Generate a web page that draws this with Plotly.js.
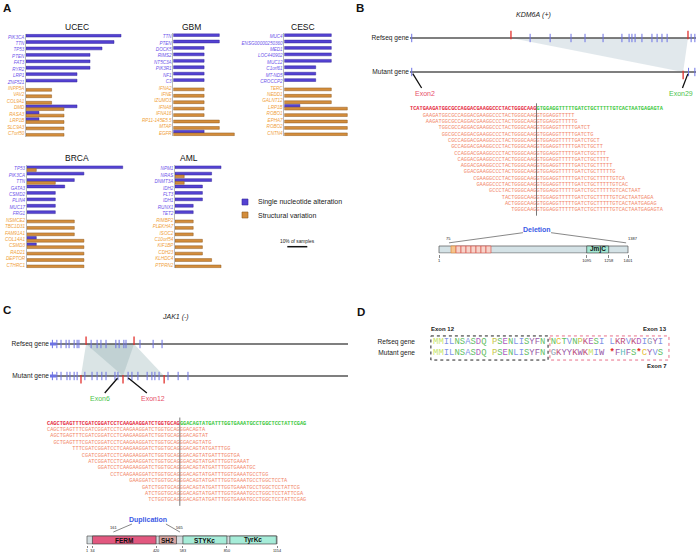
<!DOCTYPE html>
<html>
<head>
<meta charset="utf-8">
<script src="https://cdn.plot.ly/plotly-3.0.1.min.js"></script>
<style>
  html, body { margin: 0; padding: 0; background: #fff; }
  #chart { width: 696px; height: 555px; }
</style>
</head>
<body>
<div id="chart"></div>
<script>
var W = 696, H = 555;
var FONT = 'Liberation Sans, Arial, sans-serif';
var MONO = 'Liberation Mono, Courier New, monospace';

// ---------- A: top altered genes per cancer type (% of samples) ----------
var ucecGenes = ['PIK3CA','TTN','TP53','PTEN','FAT3','RYR2','LRP1','ZNF521','INPP5A','VAV2','COL9A1','DMD','RASA3','LRP1B','SLC9A3','C7orf50'];
var ucecSnv = [47.5, 44, 38, 32, 32, 32, 25.5, 25.5, 0, 0, 0, 25.5, 6.5, 6.5, 0, 0];
var ucecSv  = [0, 0, 0, 0, 0, 0, 0, 0, 12.8, 12.8, 12.8, 19, 19, 19, 19, 19];

var gbmGenes = ['TTN','PTEN','DOCK5','RIMS2','NT5C3A','PIK3R1','NF1','C3','IFNA2','IFNE','IZUMO3','IFNA8','IFNA16','RP11-145E5.5','MTAP','EGFR'];
var gbmSnv = [23, 23, 15.4, 15.4, 15.4, 15.4, 15.4, 15.4, 0, 0, 0, 0, 0, 0, 0, 15.4];
var gbmSv  = [0, 0, 0, 0, 0, 0, 0, 0, 15.4, 15.4, 15.4, 15.4, 15.4, 23, 23, 30.5];

var cescGenes = ['MUC4','ENSG00000250360','MED1','LOC440902','MUC12','C1orf61','MT-ND5','CROCCP2','TERC','NEDD1','GALNT12','LRP1B','ROBO1','EPHA7','ROBO2','CNTN4'];
var cescSnv = [23.5, 23.5, 23.5, 23.5, 23.5, 15.7, 15.7, 15.7, 0, 0, 0, 7.8, 0, 0, 0, 0];
var cescSv  = [0, 0, 0, 0, 0, 0, 0, 0, 23.5, 23.5, 23.5, 31.5, 31.5, 31.5, 31.5, 31.5];

var brcaGenes = ['TP53','PIK3CA','TTN','GATA3','CSMD2','PLIN4','MUC17','FRG1','NSMCE2','TBC1D31','FAM91A1','COL14A1','CSMD3','RAD21','DEPTOR','CTHRC1'];
var brcaSnv = [48, 28.6, 23.8, 19, 14.3, 14.3, 14.3, 14.3, 0, 0, 0, 4.8, 4.8, 0, 0, 0];
var brcaSv  = [4.8, 0, 14.3, 0, 0, 0, 0, 0, 23.8, 23.8, 23.8, 28.6, 28.6, 28.6, 28.6, 28.6];

var amlGenes = ['NPM1','NRAS','DNMT3A','IDH2','FLT3','IDH1','RUNX1','TET2','RIMBP2','PLEKHA7','ISOC2','C10orf54','KIF1BP','CDH23','KLHDC4','PTPRN2'];
var amlSnv = [23, 18.3, 18.3, 13.7, 13.7, 13.7, 9.1, 9.1, 0, 0, 0, 0, 0, 0, 0, 0];
var amlSv  = [0, 4.6, 4.6, 0, 0, 0, 0, 0, 9.1, 9.1, 9.1, 13.7, 13.7, 13.7, 18.3, 23];

var snvLabelCount = 8;   // first 8 genes in each list are SNV genes
var scaleBarPct = 10;

// ---------- B: KDM6A deletion ----------
var kdmRefExons = [0.6, 42, 49, 56.3, 61.2, 67.5, 74.1, 76.6, 77.6, 78.7, 81.1, 84.6, 86.4, 88.1, 89.9, 98.3, 99.6];
var kdmRefBreaks = [35.3, 97.2];
var kdmMutExons = [0.6, 97.4, 99.6];
var kdmMutBreaks = [95.5];
var kdmLeft = 'TCATGAAGATGGCGCCAGGACGAAGGCCCTACTGGGCAAG';
var kdmRight = 'GTGGAGGTTTTTGATCTGCTTTTTGTCACTAATGAGAGTA';
var kdmReadStart = [4, 5, 9, 10, 12, 13, 14, 15, 16, 17, 20, 21, 25, 29, 30, 32];
var kdmReadEnd = [52, 53, 57, 58, 60, 61, 62, 63, 64, 65, 68, 69, 73, 77, 78, 80];
var kdmLength = 1401;
var kdmTprStart = [90, 127, 164, 201, 238, 275, 312, 349];
var kdmTprEnd = [127, 164, 201, 238, 275, 312, 349, 386];
var kdmDomainNames = ['JmjC'];
var kdmDomainStart = [1095];
var kdmDomainEnd = [1258];
var kdmTicks = [1, 1095, 1258, 1401];
var kdmDeletion = [75, 1387];

// ---------- C: JAK1 duplication ----------
var jakRefExons = [0.8, 2.3, 3.7, 5.4, 6.4, 8.1, 9.1, 9.7, 13.8, 15.8, 17.1, 18.8, 22.1, 23.2, 24.8, 25.5, 30.2, 34.6, 37.6];
var jakRefBreaks = [12.1, 28.2];
var jakMutExons = [0.8, 2.3, 3.7, 5.7, 6.7, 8.1, 9.1, 11.7, 14.1, 15.8, 17.4, 18.8, 21.8, 22.8, 26.2, 27.5, 29.5, 32.6, 34.2, 35.2, 36.6, 39.6, 43.0, 46.3];
var jakMutBreaks = [10.4, 24.5, 38.3];
var jakLeft = 'CAGCTGAGTTTCGATCGGATCCTCAAGAAGGATCTGGTGCAG';
var jakRight = 'GGACAGTATGATTTGGTGAAATGCCTGGCTCCTATTCGAG';
var jakReadStart = [0, 1, 2, 8, 11, 13, 16, 20, 26, 30, 31, 32];
var jakReadEnd = [50, 51, 52, 58, 61, 64, 66, 70, 76, 80, 81, 82];
var jakLength = 1154;
var jakDomainNames = ['FERM', 'SH2', 'STYKc', 'TyrKc'];
var jakDomainStart = [34, 439, 583, 868];
var jakDomainEnd = [420, 544, 850, 1150];
var jakTicks = [1, 34, 420, 583, 850, 1154];
var jakDuplication = [161, 565];

// ---------- D: protein sequences ----------
var refseqProtein = 'MMILNSASDQ PSENLISYFN NCTVNPKESI LKRVKDIGYI';
var mutantProtein = 'MMILNSASDQ PSENLISYFN GKYYKWKMIW *FHFS*CYVS';

// ---------- styles ----------
var SNV_FILL = '#5442d2', SNV_EDGE = '#33269a', SNV_LABEL = '#6e55ea';
var SV_FILL = '#d38d3c', SV_EDGE = '#8e5a20', SV_LABEL = '#f0a03a';
var EXON_BLUE = '#6c72e4', BREAK_RED = '#e2302c';
var SEQ_RED = '#e52a3e', SEQ_GREEN = '#3cc83c', READ_COLOR = '#f2876a';
var PX_PER_PCT = 2.0, ROW = 6.43;
var CHAR_PX = 3.1625;
var residueColors = {A:'#7f93e6', I:'#7f93e6', L:'#7f93e6', V:'#7f93e6', M:'#c6e56a',
  F:'#9a5aa8', W:'#9a5aa8', Y:'#9a5aa8', N:'#62c062', Q:'#62c062', S:'#62c062', T:'#62c062',
  D:'#b060c0', E:'#b060c0', K:'#c0507a', R:'#c0507a', H:'#5cbcbc', G:'#8a9ab0',
  P:'#c8c84a', C:'#e6c040', '*':'#e02a2a'};

var traces = [];
var layout = {
  width: W, height: H,
  margin: {l: 0, r: 0, t: 0, b: 0},
  paper_bgcolor: '#fff', plot_bgcolor: 'rgba(0,0,0,0)',
  showlegend: false,
  barmode: 'group', bargap: 0.12, bargroupgap: 0,
  font: {family: FONT, color: '#222'},
  annotations: [], shapes: []
};

var nAx = 0;
function newAxes(xa, ya) {
  nAx += 1;
  var s = nAx === 1 ? '' : String(nAx);
  var base = {fixedrange: true, showgrid: false, zeroline: false};
  layout['xaxis' + s] = Object.assign({anchor: 'y' + s, visible: false}, base, xa);
  layout['yaxis' + s] = Object.assign({anchor: 'x' + s, visible: false}, base, ya);
  return {x: 'x' + s, y: 'y' + s};
}
function xLinear(p0, p1, pa, va, pb, vb) {
  var k = (vb - va) / (pb - pa);
  return {domain: [p0 / W, p1 / W], range: [va + (p0 - pa) * k, va + (p1 - pa) * k]};
}
function yLinear(top, bottom, pa, va, pb, vb) {
  var k = (vb - va) / (pb - pa);
  return {domain: [1 - bottom / H, 1 - top / H], range: [va + (bottom - pa) * k, va + (top - pa) * k]};
}
function note(text, x, y, opts) {
  layout.annotations.push(Object.assign({text: text, x: x, y: y, xref: 'paper', yref: 'paper',
    xanchor: 'center', yanchor: 'middle', showarrow: false, font: {size: 7, color: '#222'}}, opts || {}));
}
function px(x) { return x / W; }
function py(y) { return 1 - y / H; }
function nz(v) { return v > 0 ? v : null; }

// ---------- panel A ----------
function cancerPanel(title, genes, snv, sv, x0, x1, yFirst, titleX, titleY) {
  var n = genes.length;
  var ax = newAxes(
    {domain: [x0 / W, x1 / W], range: [0, (x1 - x0) / PX_PER_PCT]},
    {visible: true, type: 'category',
     domain: [1 - (yFirst + (n - 0.5) * ROW) / H, 1 - (yFirst - 0.5 * ROW) / H],
     range: [n - 0.5, -0.5], tickmode: 'array', tickvals: genes,
     ticktext: genes.map(function (g, i) {
       return '<i><span style="color:' + (i < snvLabelCount ? SNV_LABEL : SV_LABEL) + '">' + g + '</span></i>';
     }),
     ticks: '', tickfont: {size: 4.6}, showline: true, linecolor: '#9a9a9a', linewidth: 0.7});
  traces.push({type: 'bar', orientation: 'h', y: genes, x: snv.map(nz), xaxis: ax.x, yaxis: ax.y,
    marker: {color: SNV_FILL, line: {color: SNV_EDGE, width: 0.5}}, hoverinfo: 'skip'});
  traces.push({type: 'bar', orientation: 'h', y: genes, x: sv.map(nz), xaxis: ax.x, yaxis: ax.y,
    marker: {color: SV_FILL, line: {color: SV_EDGE, width: 0.5}}, hoverinfo: 'skip'});
  note(title, px(titleX), py(titleY), {font: {size: 8.5, color: '#111'}});
}
cancerPanel('UCEC', ucecGenes, ucecSnv, ucecSv, 26, 125, 37, 77, 27);
cancerPanel('GBM', gbmGenes, gbmSnv, gbmSv, 173.3, 236, 36.5, 191, 27);
cancerPanel('CESC', cescGenes, cescSnv, cescSv, 284.3, 350, 36.5, 303, 27);
cancerPanel('BRCA', brcaGenes, brcaSnv, brcaSv, 26.7, 125, 168.6, 77, 158);
cancerPanel('AML', amlGenes, amlSnv, amlSv, 175, 236, 168.6, 189, 158);

// legend
layout.shapes.push({type: 'rect', xref: 'paper', yref: 'paper', x0: px(242), x1: px(248), y0: py(205), y1: py(199),
  fillcolor: SNV_FILL, line: {color: SNV_EDGE, width: 0.6}});
layout.shapes.push({type: 'rect', xref: 'paper', yref: 'paper', x0: px(242), x1: px(248), y0: py(218), y1: py(212),
  fillcolor: SV_FILL, line: {color: SV_EDGE, width: 0.6}});
note('Single nucleotide alteration', px(256), py(202), {xanchor: 'left', font: {size: 7, color: '#222'}});
note('Structural variation', px(256), py(215), {xanchor: 'left', font: {size: 7, color: '#222'}});

// scale bar
var sAx = newAxes(xLinear(280, 320, 287.3, 0, 307.3, scaleBarPct), yLinear(238, 252, 246.7, 0, 240, 1));
traces.push({type: 'scatter', mode: 'lines', x: [0, scaleBarPct], y: [0, 0], xaxis: sAx.x, yaxis: sAx.y,
  line: {color: '#111', width: 1.5}, hoverinfo: 'skip'});
note(scaleBarPct + '% of samples', px(297), py(241.5), {font: {size: 4.8, color: '#222'}});

// ---------- gene structure tracks ----------
function geneTrack(ax, refExons, refBreaks, mutExons, mutBreaks, polys, shade, breakOffset) {
  polys.forEach(function (p) {
    traces.push({type: 'scatter', mode: 'lines', x: p[0], y: p[1], fill: 'toself', fillcolor: shade,
      line: {width: 0}, xaxis: ax.x, yaxis: ax.y, hoverinfo: 'skip'});
  });
  [1, 0].forEach(function (r) {
    traces.push({type: 'scatter', mode: 'lines', x: [0, 100], y: [r, r], xaxis: ax.x, yaxis: ax.y,
      line: {color: '#555', width: 1.5}, hoverinfo: 'skip'});
  });
  function marks(xs, r, color, size, width, dy) {
    traces.push({type: 'scatter', mode: 'markers', x: xs, y: xs.map(function () { return r + dy; }),
      xaxis: ax.x, yaxis: ax.y, cliponaxis: false, hoverinfo: 'skip',
      marker: {symbol: 'line-ns', size: size, line: {color: color, width: width}}});
  }
  marks(refExons, 1, EXON_BLUE, 6, 1, 0);
  marks(mutExons, 0, EXON_BLUE, 6, 1, 0);
  marks(refBreaks, 1, BREAK_RED, 6, 1.3, breakOffset);
  marks(mutBreaks, 0, BREAK_RED, 6, 1.3, -breakOffset);
}
function geneAxes(x0, x1, refY, mutY) {
  var ya = yLinear(refY - 10, mutY + 10, refY, 1, mutY, 0);
  ya.visible = true; ya.tickmode = 'array'; ya.tickvals = [1, 0];
  ya.ticktext = ['Refseq gene', 'Mutant gene']; ya.ticks = ''; ya.showline = false;
  ya.tickfont = {size: 6.6, color: '#222'};
  return newAxes(xLinear(x0, x1, x0, 0, x1, 100), ya);
}

// B gene
var bGene = geneAxes(410, 696, 38, 72);
geneTrack(bGene, kdmRefExons, kdmRefBreaks, kdmMutExons, kdmMutBreaks,
  [[[kdmRefBreaks[0], kdmRefBreaks[1], kdmMutBreaks[0]], [1, 1, 0]]],
  'rgba(175,195,205,0.38)', 0.09);
layout.annotations.push({text: 'Exon2', x: kdmMutExons[0], y: 0, xref: bGene.x, yref: bGene.y,
  ax: 13, ay: 21, showarrow: true, arrowhead: 0, arrowwidth: 1.3, arrowcolor: '#111', standoff: 2,
  font: {size: 7, color: '#e8506a'}});
layout.annotations.push({text: 'Exon29', x: kdmMutExons[1], y: 0, xref: bGene.x, yref: bGene.y,
  ax: -8, ay: 21, showarrow: true, arrowhead: 0, arrowwidth: 1.3, arrowcolor: '#111', standoff: 2,
  font: {size: 7, color: '#4cc44c'}});

// C gene
var cGene = geneAxes(50, 348, 344, 376);
geneTrack(cGene, jakRefExons, jakRefBreaks, jakMutExons, jakMutBreaks,
  [[[jakRefBreaks[0], jakRefBreaks[1], jakMutBreaks[1], jakMutBreaks[0]], [1, 1, 0, 0]],
   [[jakRefBreaks[0], jakRefBreaks[1], jakMutBreaks[2], jakMutBreaks[1]], [1, 1, 0, 0]]],
  'rgba(140,170,175,0.32)', 0.1);
traces.push({type: 'scatter', mode: 'lines', x: [0, 2], y: [1, 1], xaxis: cGene.x, yaxis: cGene.y,
  line: {color: EXON_BLUE, width: 3}, hoverinfo: 'skip'});
traces.push({type: 'scatter', mode: 'lines', x: [0, 2], y: [0, 0], xaxis: cGene.x, yaxis: cGene.y,
  line: {color: EXON_BLUE, width: 3}, hoverinfo: 'skip'});
layout.annotations.push({text: 'Exon6', x: 23.3, y: 0, xref: cGene.x, yref: cGene.y,
  ax: -19, ay: 22, showarrow: true, arrowhead: 0, arrowwidth: 1.3, arrowcolor: '#111', standoff: 3,
  font: {size: 7, color: '#4cc44c'}});
layout.annotations.push({text: 'Exon12', x: jakMutBreaks[1] + 1, y: 0, xref: cGene.x, yref: cGene.y,
  ax: 27, ay: 22, showarrow: true, arrowhead: 0, arrowwidth: 1.3, arrowcolor: '#111', standoff: 3,
  font: {size: 7, color: '#e8506a'}});

// ---------- junction reads ----------
function readsBlock(ax, left, right, starts, ends) {
  var full = left + right, L = left.length;
  var fs = CHAR_PX / 0.6;
  traces.push({type: 'scatter', mode: 'text', x: [L / 2, L + right.length / 2], y: [0, 0],
    text: ['<b>' + left + '</b>', '<b>' + right + '</b>'], xaxis: ax.x, yaxis: ax.y, cliponaxis: false,
    textposition: 'middle center', textfont: {family: MONO, size: fs, color: [SEQ_RED, SEQ_GREEN]}, hoverinfo: 'skip'});
  var xs = [], ys = [], ts = [];
  for (var i = 0; i < starts.length; i++) {
    xs.push((starts[i] + ends[i]) / 2);
    ys.push(i + 1);
    ts.push(full.slice(starts[i], ends[i]));
  }
  traces.push({type: 'scatter', mode: 'text', x: xs, y: ys, text: ts, xaxis: ax.x, yaxis: ax.y, cliponaxis: false,
    textposition: 'middle center', textfont: {family: MONO, size: fs, color: READ_COLOR}, hoverinfo: 'skip'});
  traces.push({type: 'scatter', mode: 'lines', x: [L, L], y: [-0.9, starts.length + 0.9], xaxis: ax.x, yaxis: ax.y,
    line: {color: '#555', width: 0.8}, hoverinfo: 'skip'});
}
var bSeq = newAxes(xLinear(405, 670, 410, 0, 410 + 80 * CHAR_PX, 80), yLinear(98, 222, 109, 0, 210, 16));
readsBlock(bSeq, kdmLeft, kdmRight, kdmReadStart, kdmReadEnd);
var cSeq = newAxes(xLinear(42, 312, 47, 0, 47 + 82 * CHAR_PX, 82), yLinear(412, 510, 423.3, 0, 500.1, 12));
readsBlock(cSeq, jakLeft, jakRight, jakReadStart, jakReadEnd);

// ---------- protein diagrams ----------
function proteinAxes(x0, x1, p1, pLen, len, barTop, barBottom, top, ticks, tickLen, tickSize) {
  var xa = xLinear(x0, x1, p1, 1, pLen, len);
  xa.visible = true; xa.showline = false; xa.ticks = 'outside'; xa.ticklen = tickLen; xa.tickwidth = 0.6;
  xa.tickcolor = '#333'; xa.tickmode = 'array'; xa.tickvals = ticks; xa.ticktext = ticks.map(String);
  xa.tickfont = {size: tickSize, color: '#222'};
  var ya = yLinear(top, barBottom + 0.5, barBottom, 0, barTop, 1);
  return newAxes(xa, ya);
}
function rect(ax, x0, x1, fill, edge, w) {
  layout.shapes.push({type: 'rect', xref: ax.x, yref: ax.y, x0: x0, x1: x1, y0: 0, y1: 1,
    fillcolor: fill, line: {color: edge, width: w}});
}
function axNote(ax, text, x, y, opts) {
  layout.annotations.push(Object.assign({text: text, x: x, y: y, xref: ax.x, yref: ax.y, showarrow: false,
    xanchor: 'center', yanchor: 'middle', font: {size: 4, color: '#222'}}, opts || {}));
}

var bProt = proteinAxes(432, 640, 439, 628, kdmLength, 246, 253, 220, kdmTicks, 3, 4);
rect(bProt, 1, kdmLength, '#d4e2e6', '#555', 0.7);
for (var t = 0; t < kdmTprStart.length; t++) {
  rect(bProt, kdmTprStart[t], kdmTprEnd[t], t === 0 ? '#f5c48e' : '#f6d3ca', t === 0 ? '#e08a3a' : '#d8584e', 0.7);
}
for (var d = 0; d < kdmDomainNames.length; d++) {
  rect(bProt, kdmDomainStart[d], kdmDomainEnd[d], '#a2e6d2', '#444', 0.7);
  axNote(bProt, '<b>' + kdmDomainNames[d] + '</b>', (kdmDomainStart[d] + kdmDomainEnd[d]) / 2, 0.5, {font: {size: 6.5, color: '#111'}});
}
axNote(bProt, '<b>TPR</b>', (kdmTprStart[0] + kdmTprEnd[kdmTprEnd.length - 1]) / 2, -0.6, {font: {size: 6.5, color: '#111'}});
traces.push({type: 'scatter', mode: 'lines', x: [kdmDeletion[0], 623, null, 831, kdmDeletion[1]],
  y: [1.45, 2.9, null, 2.9, 1.45], xaxis: bProt.x, yaxis: bProt.y, line: {color: '#555', width: 0.7}, hoverinfo: 'skip'});
axNote(bProt, String(kdmDeletion[0]), kdmDeletion[0], 1.45, {yanchor: 'bottom'});
axNote(bProt, String(kdmDeletion[1]), kdmDeletion[1], 1.45, {yanchor: 'bottom', xanchor: 'left'});
axNote(bProt, '<b>Deletion</b>', 727, 3.3, {font: {size: 7, color: '#3c5ae6'}});

var cProt = proteinAxes(80, 290, 87, 277, jakLength, 536, 544, 511, jakTicks, 2, 3.8);
var jakColors = ['#e2587f', '#d9a4a0', '#a6ecd8', '#a6ecd8'];
rect(cProt, 1, jakLength, '#d4dde0', '#555', 0.7);
for (var j = 0; j < jakDomainNames.length; j++) {
  rect(cProt, jakDomainStart[j], jakDomainEnd[j], jakColors[j], '#444', 0.7);
  axNote(cProt, '<b>' + jakDomainNames[j] + '</b>', (jakDomainStart[j] + jakDomainEnd[j]) / 2, 0.5, {font: {size: 6.5, color: '#111'}});
}
traces.push({type: 'scatter', mode: 'lines', x: [jakDuplication[0], 274, null, 480, jakDuplication[1]],
  y: [1.5, 2.5, null, 2.5, 1.5], xaxis: cProt.x, yaxis: cProt.y, line: {color: '#555', width: 0.7}, hoverinfo: 'skip'});
axNote(cProt, String(jakDuplication[0]), jakDuplication[0], 1.5, {yanchor: 'bottom'});
axNote(cProt, String(jakDuplication[1]), jakDuplication[1], 1.5, {yanchor: 'bottom'});
axNote(cProt, '<b>Duplication</b>', 371, 2.95, {font: {size: 7, color: '#3c5ae6'}});

// ---------- D: peptide alignment ----------
var dYa = yLinear(320, 372, 342, 0, 353, 1);
dYa.visible = true; dYa.tickmode = 'array'; dYa.tickvals = [0, 1];
dYa.ticktext = ['Refseq gene', 'Mutant gene']; dYa.ticks = ''; dYa.showline = false;
dYa.tickfont = {size: 6.6, color: '#222'}; dYa.ticklabelstandoff = 6;
var dAx = newAxes(xLinear(422, 680, 435.7, 0, 435.7 + 5.35 * 42, 42), dYa);
[refseqProtein, mutantProtein].forEach(function (seq, r) {
  var xs = [], ys = [], ts = [], cs = [];
  for (var i = 0; i < seq.length; i++) {
    var ch = seq.charAt(i);
    if (ch === ' ') continue;
    xs.push(i); ys.push(r); ts.push(ch === '*' ? '<b>*</b>' : ch); cs.push(residueColors[ch] || '#666');
  }
  traces.push({type: 'scatter', mode: 'text', x: xs, y: ys, text: ts, xaxis: dAx.x, yaxis: dAx.y, cliponaxis: false,
    textposition: 'middle center', textfont: {family: MONO, size: 8.9, color: cs}, hoverinfo: 'skip'});
});
layout.shapes.push({type: 'rect', xref: dAx.x, yref: dAx.y, x0: -0.9, x1: 21.0, y0: -0.55, y1: 1.64,
  line: {color: '#222', width: 1, dash: 'dot'}});
layout.shapes.push({type: 'rect', xref: dAx.x, yref: dAx.y, x0: 21.35, x1: 43.6, y0: -0.55, y1: 1.64,
  line: {color: '#e8708a', width: 1, dash: 'dot'}});
axNote(dAx, '<b>Exon 12</b>', 1.4, -1.2, {font: {size: 6, color: '#222'}});
axNote(dAx, '<b>Exon 13</b>', 43.6, -1.2, {xanchor: 'right', font: {size: 6, color: '#222'}});
axNote(dAx, '<b>Exon 7</b>', 43.6, 2.2, {xanchor: 'right', font: {size: 6, color: '#222'}});

// ---------- titles & panel letters ----------
note('<i>KDM6A</i> <i>(+)</i>', px(533), py(15), {font: {size: 7, color: '#222'}});
note('<i>JAK1</i> <i>(-)</i>', px(175), py(317), {font: {size: 7, color: '#222'}});
note('<b>A</b>', px(7), py(8), {font: {size: 11.5, color: '#111'}});
note('<b>B</b>', px(360), py(8), {font: {size: 11.5, color: '#111'}});
note('<b>C</b>', px(7), py(310), {font: {size: 11.5, color: '#111'}});
note('<b>D</b>', px(361), py(312), {font: {size: 11.5, color: '#111'}});

Plotly.newPlot('chart', traces, layout, {staticPlot: true, displayModeBar: false});
</script>
</body>
</html>
